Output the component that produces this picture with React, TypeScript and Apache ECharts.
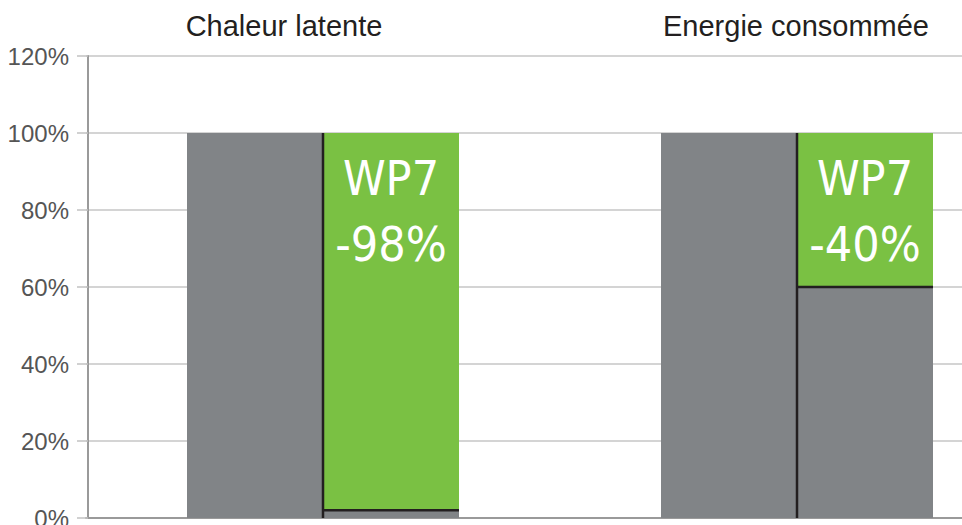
import React, { useEffect, useRef } from "react";
import * as echarts from "echarts";

const categories = ["Chaleur latente", "Energie consommée"];
const referenceValues = [100, 100];
const remainingValues = [2, 60];
const reductionValues = [98, 40];
const seriesTag = "WP7";
const yTicks = [0, 20, 40, 60, 80, 100, 120];

const GRAY = "#818487";
const GREEN = "#7ac143";
const DARK = "#231f20";
const BAR_W = 136;
const NARROW = '"DejaVu Sans Condensed", "Liberation Sans", sans-serif';

export default function App() {
  const ref = useRef<HTMLDivElement>(null);
  useEffect(() => {
    if (!ref.current) return;
    const chart = echarts.init(ref.current, undefined, { renderer: "svg" });
    const titleX = [284, 796];
    chart.setOption({
      animation: false,
      backgroundColor: "#ffffff",
      textStyle: { fontFamily: "Liberation Sans" },
      grid: {
        left: 86,
        width: 948,
        top: 56,
        bottom: 7,
        containLabel: false,
        outerBoundsMode: "none",
      },
      graphic: categories.map((c, i) => ({
        type: "text",
        x: titleX[i],
        y: 26,
        style: {
          text: c,
          align: "center",
          verticalAlign: "middle",
          fontSize: 29,
          fontFamily: "Liberation Sans",
          fill: DARK,
        },
      })),
      xAxis: {
        type: "category",
        data: categories,
        position: "bottom",
        axisLine: { show: true, lineStyle: { color: "#9a9a9a", width: 2 } },
        axisTick: { show: false },
        axisLabel: { show: false },
        splitLine: { show: false },
      },
      yAxis: {
        type: "value",
        min: yTicks[0],
        max: yTicks[yTicks.length - 1],
        interval: yTicks[1] - yTicks[0],
        offset: -2,
        axisLine: { show: true, lineStyle: { color: "#9a9a9a", width: 2 } },
        axisTick: { show: true, length: 11, lineStyle: { color: "#c2c2c2", width: 1.5 } },
        axisLabel: {
          formatter: "{value}%",
          fontSize: 24,
          color: "#555555",
          margin: 19,
          fontFamily: "Liberation Sans",
        },
        splitLine: { show: true, lineStyle: { color: "#c6c6c6", width: 1.5 } },
      },
      series: [
        {
          name: "Référence",
          type: "bar",
          data: referenceValues,
          barWidth: BAR_W,
          barGap: "0%",
          itemStyle: { color: GRAY },
          z: 2,
        },
        {
          name: "Restant",
          type: "bar",
          stack: "wp7",
          data: remainingValues,
          barWidth: BAR_W,
          barGap: "0%",
          itemStyle: { color: GRAY },
          z: 2,
        },
        {
          name: seriesTag,
          type: "bar",
          stack: "wp7",
          data: reductionValues,
          barWidth: BAR_W,
          barGap: "0%",
          itemStyle: { color: GREEN },
          z: 2,
          label: {
            show: true,
            position: "insideTop",
            distance: 12,
            color: "#ffffff",
            fontSize: 48,
            lineHeight: 66,
            fontFamily: NARROW,
            formatter: (p: any) => `${seriesTag}\n-${p.value}%`,
          },
        },
        {
          name: "separators",
          type: "custom",
          z: 5,
          silent: true,
          encode: { x: 0, y: 1 },
          data: remainingValues.map((v, i) => [i, v]),
          renderItem: (params: any, api: any) => {
            const cat = api.value(0);
            const base = api.value(1);
            const p0 = api.coord([cat, 0]);
            const pTop = api.coord([cat, referenceValues[cat]]);
            const pB = api.coord([cat, base]);
            return {
              type: "group",
              children: [
                {
                  type: "line",
                  shape: { x1: p0[0], y1: p0[1], x2: p0[0], y2: pTop[1] },
                  style: { stroke: DARK, lineWidth: 2.5 },
                },
                {
                  type: "line",
                  shape: { x1: p0[0], y1: pB[1], x2: p0[0] + BAR_W, y2: pB[1] },
                  style: { stroke: DARK, lineWidth: 2.5 },
                },
              ],
            };
          },
        },
      ],
    });
    return () => chart.dispose();
  }, []);
  return (
    <div
      ref={ref}
      style={{ position: "absolute", left: 0, top: 0, width: 962, height: 525 }}
    />
  );
}
